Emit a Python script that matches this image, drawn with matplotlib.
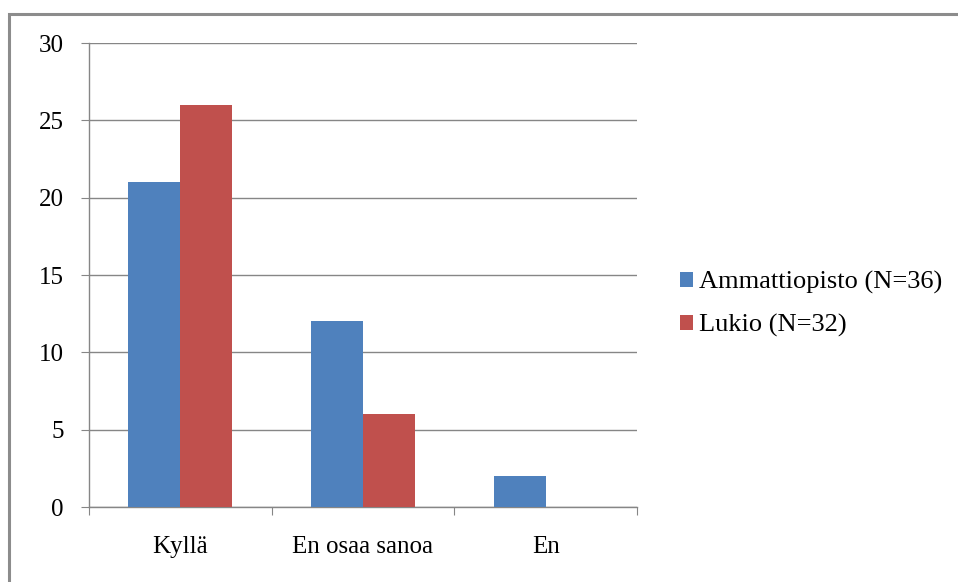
import matplotlib
matplotlib.use("Agg")
import matplotlib.pyplot as plt
import numpy as np
from matplotlib.patches import Rectangle, Patch

categories = ["Kyllä", "En osaa sanoa", "En"]
series_names = ["Ammattiopisto (N=36)", "Lukio (N=32)"]
ammattiopisto = [21, 12, 2]
lukio = [26, 6, 0]
yticks = [0, 5, 10, 15, 20, 25, 30]

plt.rcParams['font.family'] = ['Liberation Serif', 'DejaVu Serif']

W, H = 958, 582
fig = plt.figure(figsize=(W/100, H/100), dpi=100)
fig.patch.set_facecolor("white")

# outer border
fig.patches.append(Rectangle((9/W, -0.05), 1.2, 1 - 14/H + 0.05, transform=fig.transFigure,
                             fill=False, edgecolor="#8c8c8c", linewidth=2.2))

ax = fig.add_axes([89/W, 1 - 507/H, (637-89)/W, (507-43)/H])
x = np.arange(len(categories))
bw = 0.285
colors = ["#4F81BD", "#C0504D"]
ax.bar(x - bw/2, ammattiopisto, bw, color=colors[0], zorder=3)
ax.bar(x + bw/2, lukio, bw, color=colors[1], zorder=3)

FS = 18
ax.set_xlim(-0.5, 2.5)
ax.set_ylim(0, 30)
ax.set_yticks(yticks)
ax.set_yticklabels([str(v) for v in yticks], fontsize=FS)
ax.yaxis.grid(True, color="#868686", linewidth=1)
ax.set_axisbelow(True)

ax.set_xticks([-0.5, 0.5, 1.5, 2.5], minor=False)
ax.set_xticklabels([])
ax.set_xticks(x, minor=True)
ax.set_xticklabels(categories, minor=True, fontsize=FS)
ax.tick_params(axis='x', which='minor', length=0, pad=21)
ax.tick_params(axis='x', which='major', length=6, color="#868686", direction='out')
ax.tick_params(axis='y', length=6, color="#868686", pad=12)

for s in ["top", "right"]:
    ax.spines[s].set_visible(False)
for s in ["left", "bottom"]:
    ax.spines[s].set_color("#868686")
    ax.spines[s].set_linewidth(1)

handles = [Patch(facecolor=c, edgecolor='none') for c in colors]
fig.legend(handles, series_names, loc="center left", bbox_to_anchor=(667/W, 1 - 304/H),
           frameon=False, fontsize=19, handlelength=0.5, handleheight=0.5,
           handletextpad=0.2, labelspacing=0.75, borderpad=0)

fig.savefig("out.png", dpi=100)
